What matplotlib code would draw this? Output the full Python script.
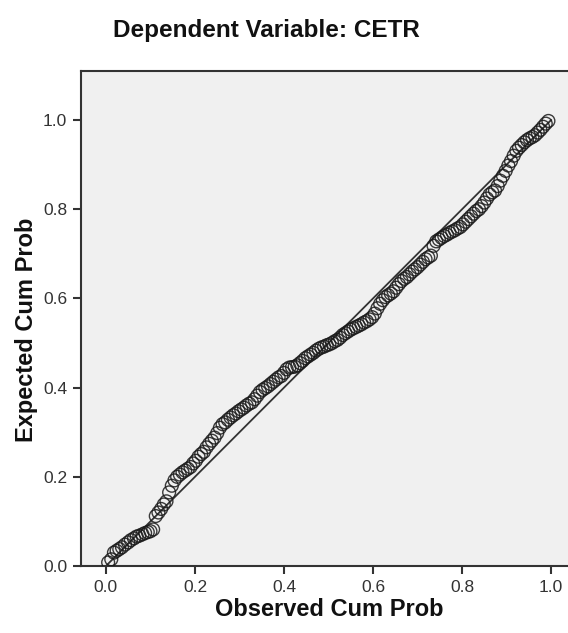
import matplotlib.pyplot as plt

plt.rcParams['font.family'] = ['Liberation Sans', 'DejaVu Sans']

title = 'Dependent Variable: CETR'
x_label = 'Observed Cum Prob'
y_label = 'Expected Cum Prob'
ticks = [0.0, 0.2, 0.4, 0.6, 0.8, 1.0]

observed = [0.005, 0.012, 0.018, 0.024, 0.030, 0.036, 0.043, 0.050, 0.056, 0.063,
            0.069, 0.075, 0.082, 0.088, 0.094, 0.100, 0.106, 0.112, 0.118, 0.124,
            0.130, 0.136, 0.142, 0.148, 0.154, 0.160, 0.166, 0.172, 0.178, 0.184,
            0.190, 0.196, 0.202, 0.208, 0.214, 0.220, 0.226, 0.232, 0.238, 0.244,
            0.250, 0.256, 0.262, 0.268, 0.274, 0.280, 0.286, 0.292, 0.298, 0.304,
            0.310, 0.316, 0.322, 0.328, 0.334, 0.340, 0.346, 0.352, 0.358, 0.364,
            0.370, 0.376, 0.382, 0.388, 0.394, 0.400, 0.406, 0.412, 0.418, 0.424,
            0.430, 0.436, 0.442, 0.448, 0.454, 0.460, 0.466, 0.472, 0.478, 0.484,
            0.490, 0.496, 0.502, 0.508, 0.514, 0.520, 0.526, 0.532, 0.538, 0.544,
            0.550, 0.556, 0.562, 0.568, 0.574, 0.580, 0.586, 0.592, 0.598, 0.604,
            0.610, 0.616, 0.622, 0.628, 0.634, 0.640, 0.646, 0.652, 0.658, 0.664,
            0.670, 0.676, 0.682, 0.688, 0.694, 0.700, 0.706, 0.712, 0.718, 0.724,
            0.730, 0.736, 0.742, 0.748, 0.754, 0.760, 0.766, 0.772, 0.778, 0.784,
            0.790, 0.796, 0.802, 0.808, 0.814, 0.820, 0.826, 0.832, 0.838, 0.844,
            0.850, 0.856, 0.862, 0.868, 0.874, 0.880, 0.886, 0.892, 0.898, 0.904,
            0.910, 0.916, 0.922, 0.928, 0.934, 0.940, 0.946, 0.952, 0.958, 0.964,
            0.970, 0.976, 0.982, 0.988, 0.994]

expected = [0.008, 0.015, 0.030, 0.034, 0.038, 0.042, 0.048, 0.053, 0.058, 0.062,
            0.066, 0.068, 0.071, 0.074, 0.076, 0.078, 0.082, 0.112, 0.120, 0.128,
            0.138, 0.145, 0.165, 0.180, 0.192, 0.200, 0.205, 0.210, 0.214, 0.218,
            0.222, 0.230, 0.236, 0.245, 0.251, 0.256, 0.266, 0.274, 0.281, 0.288,
            0.298, 0.310, 0.318, 0.322, 0.328, 0.333, 0.338, 0.342, 0.347, 0.351,
            0.355, 0.360, 0.364, 0.367, 0.374, 0.382, 0.390, 0.395, 0.399, 0.403,
            0.408, 0.413, 0.418, 0.423, 0.426, 0.433, 0.441, 0.445, 0.446, 0.447,
            0.450, 0.455, 0.460, 0.466, 0.470, 0.474, 0.478, 0.483, 0.487, 0.490,
            0.492, 0.495, 0.497, 0.500, 0.504, 0.507, 0.512, 0.518, 0.522, 0.526,
            0.530, 0.533, 0.536, 0.539, 0.542, 0.546, 0.549, 0.553, 0.558, 0.566,
            0.578, 0.588, 0.596, 0.603, 0.607, 0.611, 0.616, 0.624, 0.632, 0.639,
            0.644, 0.648, 0.654, 0.660, 0.665, 0.670, 0.676, 0.682, 0.688, 0.692,
            0.696, 0.718, 0.728, 0.732, 0.736, 0.740, 0.743, 0.747, 0.750, 0.753,
            0.757, 0.760, 0.766, 0.772, 0.778, 0.784, 0.790, 0.796, 0.800, 0.807,
            0.815, 0.824, 0.833, 0.838, 0.842, 0.852, 0.864, 0.875, 0.886, 0.898,
            0.908, 0.920, 0.931, 0.938, 0.944, 0.950, 0.955, 0.959, 0.962, 0.966,
            0.972, 0.978, 0.985, 0.992, 0.998]

fig = plt.figure(figsize=(5.68, 6.33), dpi=100)
ax = fig.add_axes([81 / 568, 67 / 633, 1 - 81 / 568, 495 / 633])
ax.set_facecolor('#f0f0f0')

ax.plot([0, 1], [0, 1], color='#333333', lw=1.3, zorder=2)
ax.scatter(observed, expected, s=85, facecolors='none', edgecolors='#1a1a1a',
           linewidths=1.0, alpha=0.85, zorder=3)

ax.set_xlim(-0.056, 1.038)
ax.set_ylim(0, 1.11)
ax.set_xticks(ticks)
ax.set_yticks(ticks)
ax.set_xticklabels(['%.1f' % t for t in ticks])
ax.set_yticklabels(['%.1f' % t for t in ticks])
ax.tick_params(direction='out', length=6, width=1.5, color='#333333',
               labelsize=12.5, labelcolor='#333333', pad=4)

for side in ['left', 'bottom', 'top']:
    ax.spines[side].set_color('#333333')
    ax.spines[side].set_linewidth(1.5)
ax.spines['right'].set_visible(False)

fig.text(329 / 568, 1 - 609 / 633, x_label, ha='center', va='center',
         fontsize=17, fontweight='bold', color='#111111')
fig.text(27 / 568, 1 - 330 / 633, y_label, ha='center', va='center',
         rotation=90, fontsize=17, fontweight='bold', color='#111111')
fig.text(266 / 568, 1 - 30 / 633, title, ha='center', va='center',
         fontsize=17.5, fontweight='bold', color='#111111')

fig.savefig('out.png', dpi=100)
